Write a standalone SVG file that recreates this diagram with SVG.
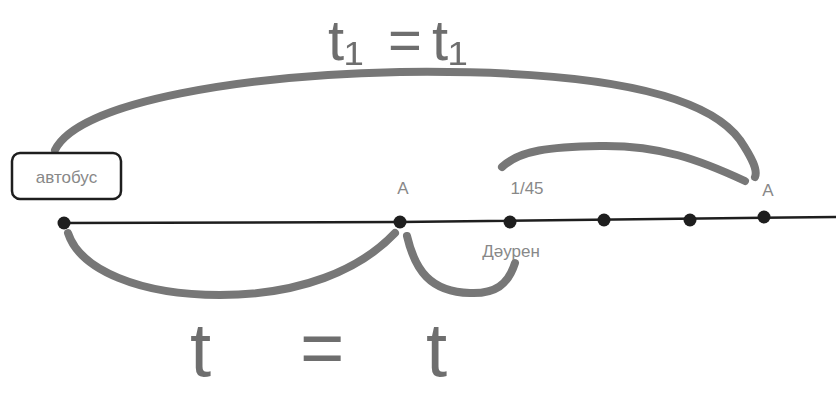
<svg xmlns="http://www.w3.org/2000/svg" width="836" height="396" viewBox="0 0 836 396">
<style>
.arc{fill:none;stroke:#777;stroke-width:8;stroke-linecap:round;stroke-linejoin:round}
.lbl{font-family:"Liberation Sans",Arial,sans-serif;font-size:17px;fill:#888}
.big{font-family:"Liberation Sans",Arial,sans-serif;fill:#6e6e6e}
.dot{fill:#1e1e1e}
</style>
<rect width="836" height="396" fill="#fff"/>
<g id="connectors">
<path class="arc" d="M55,150 C80,100 250,75 400,72 C560,70 700,85 740,140 C752,158 758,170 755,177"/>
<path class="arc" d="M502,167 C520,150 550,147 600,146 C660,145 700,160 745,181"/>
<path class="arc" d="M68,233 C80,270 140,295 220,295 C300,295 360,270 395,233"/>
<path class="arc" d="M407,236 C415,270 430,292 470,293 C495,294 508,285 515,263"/>
<path d="M64,223 L400,222 L836,217" fill="none" stroke="#1e1e1e" stroke-width="2.5"/>
</g>
<g id="bus">
<rect x="12" y="153" width="109" height="46" rx="8" fill="#fff" stroke="#1e1e1e" stroke-width="2.5"/>
<text class="lbl" x="66.5" y="183" text-anchor="middle" font-size="21">автобус</text>
</g>
<g id="points">
<circle class="dot" cx="64" cy="223" r="6.5"/>
<circle class="dot" cx="400" cy="222" r="6.5"/>
<circle class="dot" cx="510" cy="222" r="6.5"/>
<circle class="dot" cx="604" cy="220" r="6.5"/>
<circle class="dot" cx="690" cy="220" r="6.5"/>
<circle class="dot" cx="764" cy="217" r="6.5"/>
</g>
<g id="labels">
<text class="lbl" x="403" y="194" text-anchor="middle" font-size="18">A</text>
<text class="lbl" x="527" y="194" text-anchor="middle" font-size="18">1/45</text>
<text class="lbl" x="768" y="196" text-anchor="middle" font-size="18">A</text>
<text class="lbl" x="511" y="257" text-anchor="middle" font-size="18">Дәурен</text>
</g>
<g id="eq-top">
<text class="big" font-size="58"><tspan x="328" y="60">t₁</tspan><tspan x="388" y="60">=</tspan><tspan x="432" y="60">t₁</tspan></text>
</g>
<g id="eq-bottom">
<text class="big" font-size="76"><tspan x="190" y="376">t</tspan><tspan x="300" y="374">=</tspan><tspan x="426" y="376">t</tspan></text>
</g>
</svg>
